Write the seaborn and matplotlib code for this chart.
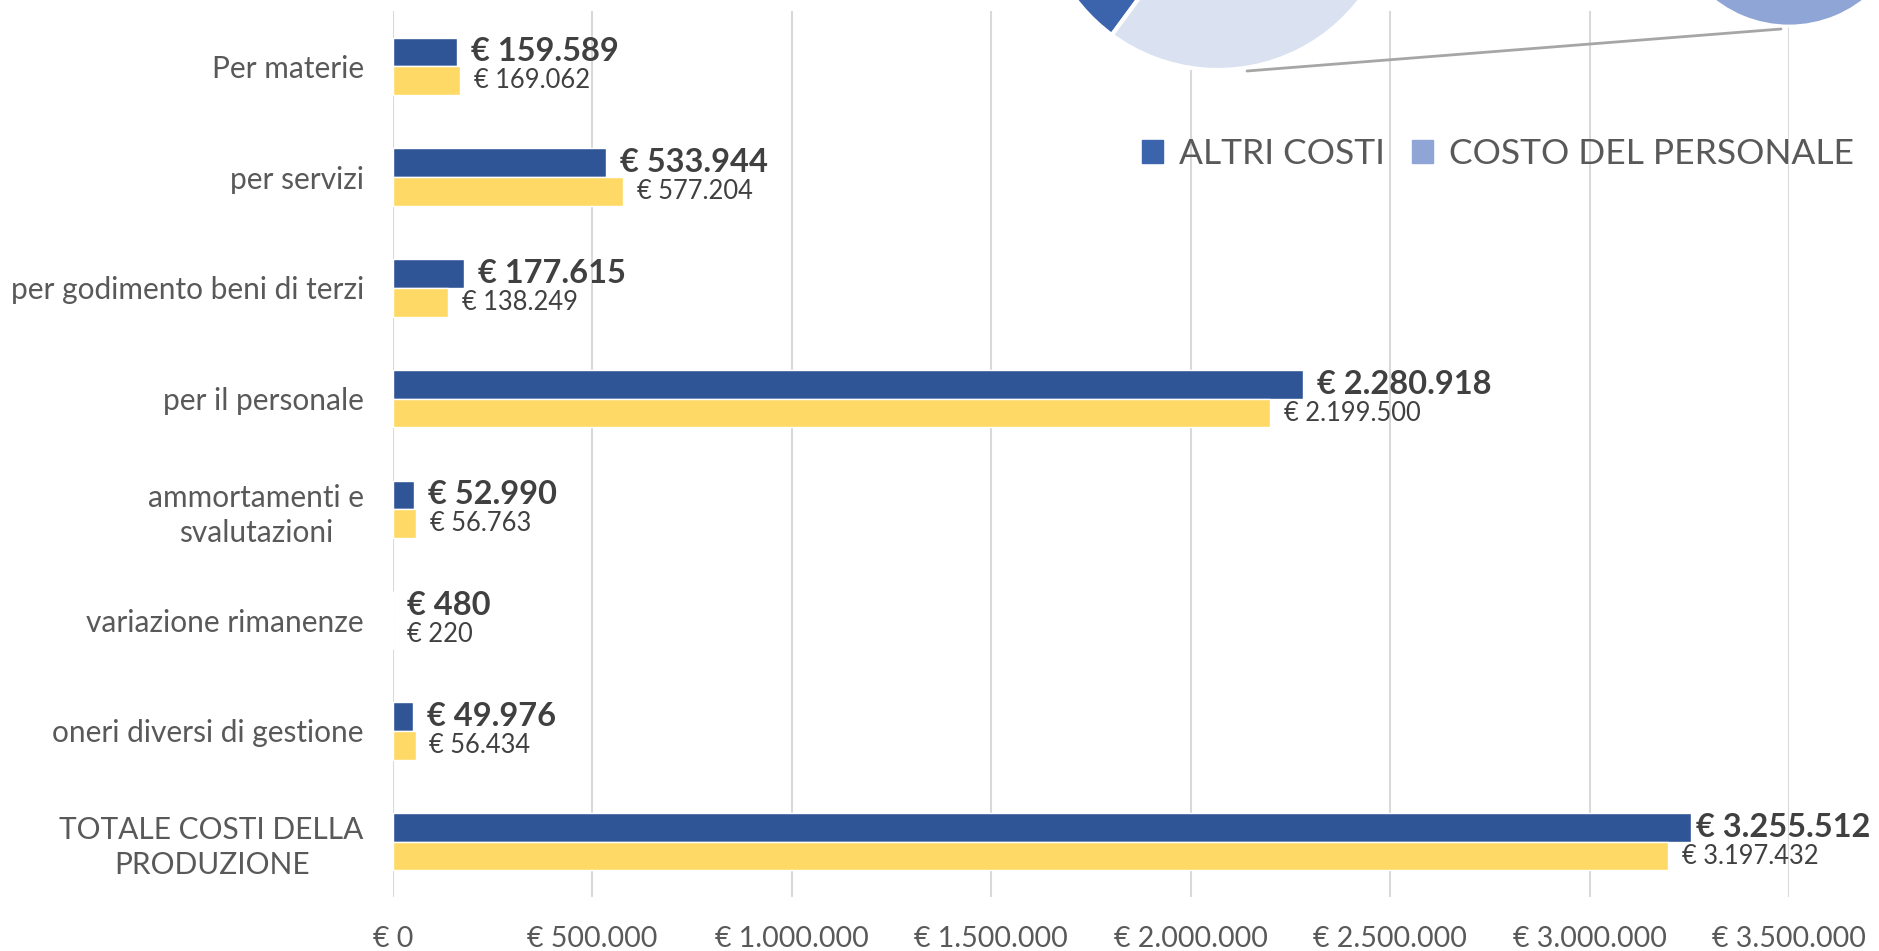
import pandas as pd
import matplotlib.pyplot as plt
import seaborn as sns
from matplotlib.patches import Patch
from matplotlib.lines import Line2D

# --- dati ---
voci = ['Per materie', 'per servizi', 'per godimento beni di terzi', 'per il personale',
        'ammortamenti e\nsvalutazioni', 'variazione rimanenze', 'oneri diversi di gestione',
        'TOTALE COSTI DELLA\nPRODUZIONE']
anno_corrente = [159589, 533944, 177615, 2280918, 52990, 480, 49976, 3255512]
anno_precedente = [169062, 577204, 138249, 2199500, 56763, 220, 56434, 3197432]
x_ticks = [0, 500000, 1000000, 1500000, 2000000, 2500000, 3000000, 3500000]

# torta sovrapposta (grafico vicino)
torta_etichette = ['ALTRI COSTI', 'COSTO DEL PERSONALE']
torta_valori = [974594, 2280918]

BLU = '#2F5597'
GIALLO = '#FFD966'
TORTA_BLU = '#3B64AD'
TORTA_CHIARO = '#DAE1F0'
TORTA_MEDIO = '#8EA5D5'


def euro(v):
    return '€ ' + f'{v:,}'.replace(',', '.')


df = pd.DataFrame({
    'voce': voci * 2,
    'serie': ['corrente'] * len(voci) + ['precedente'] * len(voci),
    'valore': anno_corrente + anno_precedente,
})

sns.set_style('white')
plt.rcParams['font.family'] = ['Lato', 'DejaVu Sans']

fig = plt.figure(figsize=(18.79, 9.51), dpi=100)
ax = fig.add_axes([393 / 1879, 54 / 951, (1789 - 393) / 1879, (896 - 10) / 951])

sns.barplot(data=df, x='valore', y='voce', hue='serie', palette=[BLU, GIALLO],
            width=0.52, orient='h', saturation=1, legend=False, ax=ax)

lab_bold = ax.bar_label(ax.containers[0], labels=[euro(v) for v in anno_corrente], padding=10,
                        fontsize=23.5, fontweight='bold', color='#404040')
# l'ultima etichetta in grassetto sta più vicina alla barra, come nell'originale
lab_bold[-1].xyann = (3, 0)
ax.bar_label(ax.containers[1], labels=[euro(v) for v in anno_precedente], padding=10,
             fontsize=18.4, color='#404040')

ax.set_xlim(0, 3500000)
ax.set_ylim(7.5, -0.5)
ax.set_xticks(x_ticks)
ax.set_xticklabels([euro(v) for v in x_ticks])
ax.tick_params(axis='x', labelsize=20.5, colors='#595959', length=0, pad=21)
ax.tick_params(axis='y', labelsize=21.5, colors='#595959', length=0, pad=21)
for lab in ax.get_yticklabels():
    lab.set_multialignment('center')
    lab.set_linespacing(1.3)
ax.set_xlabel('')
ax.set_ylabel('')
ax.grid(axis='x', color='#D9D9D9', linewidth=1.5)
ax.set_axisbelow(True)
sns.despine(ax=ax, left=True, bottom=True)

# pezzi della torta che sbordano dall'alto
quota_altri = torta_valori[0] / sum(torta_valori)
ax_p = fig.add_axes([1039 / 1879, 881 / 951, 358 / 1879, 358 / 951])
ax_p.pie(torta_valori, colors=[TORTA_BLU, TORTA_CHIARO], startangle=233.6 - 360 * quota_altri,
         wedgeprops=dict(edgecolor='white', linewidth=3))
ax_p.set_xlim(-1, 1)
ax_p.set_ylim(-1, 1)

ax_s = fig.add_axes([1668 / 1879, 925 / 951, 242 / 1879, 242 / 951])
ax_s.pie([torta_valori[1]], colors=[TORTA_MEDIO], wedgeprops=dict(edgecolor='white', linewidth=2))
ax_s.set_xlim(-1, 1)
ax_s.set_ylim(-1, 1)

fig.add_artist(Line2D([1247 / 1879, 1781 / 1879], [1 - 71 / 951, 1 - 29 / 951],
                      transform=fig.transFigure, color='#A6A6A6', linewidth=2))

handles = [Patch(color=TORTA_BLU), Patch(color=TORTA_MEDIO)]
fig.legend(handles, torta_etichette, loc='center right', bbox_to_anchor=(1854 / 1879, 1 - 154 / 951),
           ncol=2, frameon=False, fontsize=25.5, labelcolor='#595959', handlelength=0.6,
           handleheight=0.6, handletextpad=0.45, columnspacing=0.75,
           borderpad=0, borderaxespad=0)

plt.savefig('out.png', dpi=100)
